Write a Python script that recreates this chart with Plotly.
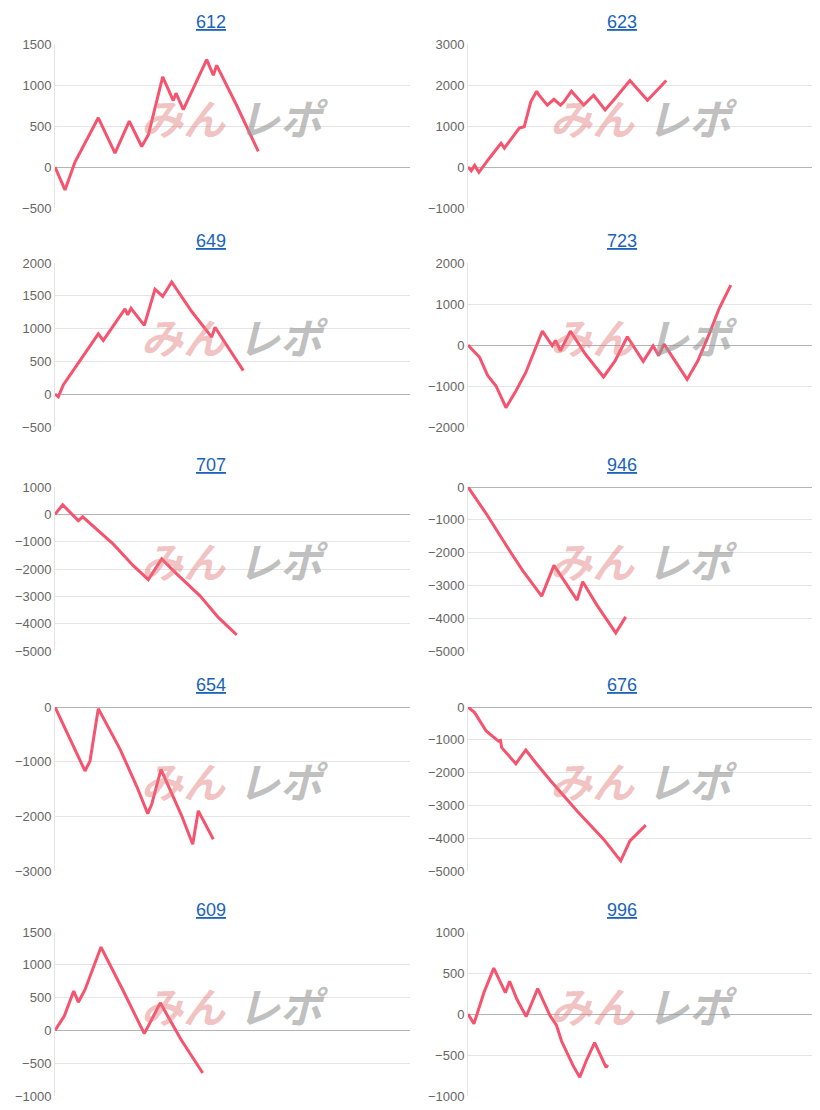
import plotly.graph_objects as go

titles = ["612", "623", "649", "723", "707", "946", "654", "676", "609", "996"]

x612 = [0,10,20,43.3,60,74.3,86.7,93.3,107.7,118.3,121,128.3,151.7,158.3,161.7,181.7,203.3]
y612 = [0,-280,60,600,170,560,250,390,1100,810,900,700,1310,1120,1240,750,190]
x623 = [0,3.3,6.7,11,21.7,33.3,36.7,51.7,56.7,63.3,69.3,71.7,80,86.7,93.3,96.7,104.3,116.7,126.7,138.3,148.3,163.3,181,200]
y623 = [0,-90,40,-130,220,580,460,950,980,1590,1850,1750,1510,1650,1510,1590,1850,1510,1750,1390,1670,2110,1630,2110]
x649 = [0,3.3,8.3,43.3,48.3,70,72.7,76,89.3,100,107.7,116.7,136.7,156.7,160,188.3]
y649 = [0,-40,140,920,820,1300,1210,1310,1050,1600,1490,1710,1260,870,1020,360]
x723 = [0,11.7,20,28.3,38.3,48.3,58.3,75,85,88.3,93.3,103.3,118.3,136.7,148.3,160.7,176.7,186.7,192.3,197.7,221,231.7,243.3,253.3,265]
y723 = [0,-300,-750,-1000,-1530,-1120,-670,340,-20,110,-140,340,-220,-780,-390,200,-400,-20,-260,20,-840,-390,270,890,1460]
x707 = [0,7.7,23.3,27.7,58.3,78.3,93.3,106.7,121.7,145,163.3,181.7]
y707 = [0,350,-230,-90,-1090,-1880,-2390,-1630,-2180,-2980,-3770,-4410]
x946 = [0,18.3,41.7,55,74.3,86.7,110,115.7,130,149,159]
y946 = [0,-810,-1930,-2540,-3330,-2390,-3450,-2890,-3600,-4450,-3960]
x654 = [0,21.7,30,35,43.3,65,81.7,92.7,96.7,106,126.7,137.7,143.3,158.3]
y654 = [0,-840,-1170,-990,-30,-770,-1450,-1950,-1780,-1140,-1990,-2510,-1900,-2420]
x676 = [0,6.7,18.3,30.7,32.7,34,48.3,58.3,68.3,83.3,110,136.7,154,163.3,179.3]
y676 = [0,-170,-730,-1040,-1020,-1240,-1730,-1310,-1700,-2250,-3170,-4030,-4690,-4080,-3600]
x609 = [0,9.3,18.7,23.3,30,46,67.7,89.3,105.3,126,147.7]
y609 = [0,220,600,430,620,1270,620,-50,420,-140,-650]
x996 = [0,6,16,26,31,37.7,42,49.3,58.7,70.3,82.7,89.3,94.3,106,112.7,119.3,127.7,134.3,139.3,141]
y996 = [0,-120,260,560,430,260,400,180,-30,310,-20,-140,-330,-630,-770,-570,-350,-510,-650,-620]

xs = [x612, x623, x649, x723, x707, x946, x654, x676, x609, x996]
ys = [y612, y623, y649, y723, y707, y946, y654, y676, y609, y996]
yranges = [(-500,1500),(-1000,3000),(-500,2000),(-2000,2000),(-5000,1000),
           (-5000,0),(-3000,0),(-5000,0),(-1000,1500),(-1000,1000)]
dticks = [500,1000,500,1000,1000,1000,1000,1000,500,500]
row_tops = [44, 263, 487, 707, 932]

OFF = 8
W, H = 820, 1110
fig = go.Figure()
layout = dict(width=W, height=H, margin=dict(l=0, r=0, t=0, b=0, pad=0, autoexpand=False),
              plot_bgcolor="white", paper_bgcolor="white", showlegend=False,
              font=dict(family="Arial, Liberation Sans, sans-serif"))
annotations = []
for i in range(10):
    row, col = divmod(i, 2)
    top = row_tops[row] - OFF
    bot = top + 164
    x0 = (55 if col == 0 else 468) - OFF
    x1 = (410 if col == 0 else 820) - OFF
    n = i + 1
    xa = "xaxis" if n == 1 else f"xaxis{n}"
    ya = "yaxis" if n == 1 else f"yaxis{n}"
    xr = "x" if n == 1 else f"x{n}"
    yr = "y" if n == 1 else f"y{n}"
    layout[xa] = dict(domain=[x0 / W, x1 / W], range=[0, 355], showticklabels=False,
                      showgrid=False, zeroline=False, showline=False, anchor=yr)
    layout[ya] = dict(domain=[1 - bot / H, 1 - top / H], range=list(yranges[i]),
                      dtick=dticks[i], gridcolor="#e4e4e4", zeroline=True,
                      zerolinecolor="#b4b4b4", zerolinewidth=1, showline=True,
                      linecolor="#e4e4e4", tickfont=dict(size=13, color="#666"),
                      ticks="", anchor=xr)
    fig.add_trace(go.Scatter(x=xs[i], y=ys[i], mode="lines", xaxis=xr, yaxis=yr,
                             line=dict(color="#f5536e", width=3)))
    annotations.append(dict(text=f"<u>{titles[i]}</u>", xref="paper", yref="paper",
                            x=((211 if col == 0 else 622) - OFF) / W,
                            y=1 - (top - 22) / H, xanchor="center", yanchor="middle",
                            showarrow=False, font=dict(size=18, color="#1a63b8")))
    cx = (183 if col == 0 else 592) - OFF
    cy = top + 72
    annotations.append(dict(text="<b><i>みん</i></b>", xref="paper", yref="paper",
                            x=cx / W, y=1 - cy / H, xanchor="center", yanchor="middle",
                            showarrow=False,
                            font=dict(size=42, color="rgba(225,120,120,0.45)",
                                      family="Noto Sans CJK JP")))
    annotations.append(dict(text="<b><i>レポ</i></b>", xref="paper", yref="paper",
                            x=(cx + 100) / W, y=1 - cy / H, xanchor="center", yanchor="middle",
                            showarrow=False,
                            font=dict(size=42, color="rgba(150,150,150,0.6)",
                                      family="Noto Sans CJK JP")))
layout["annotations"] = annotations
fig.update_layout(**layout)
fig.write_html("out.html")
